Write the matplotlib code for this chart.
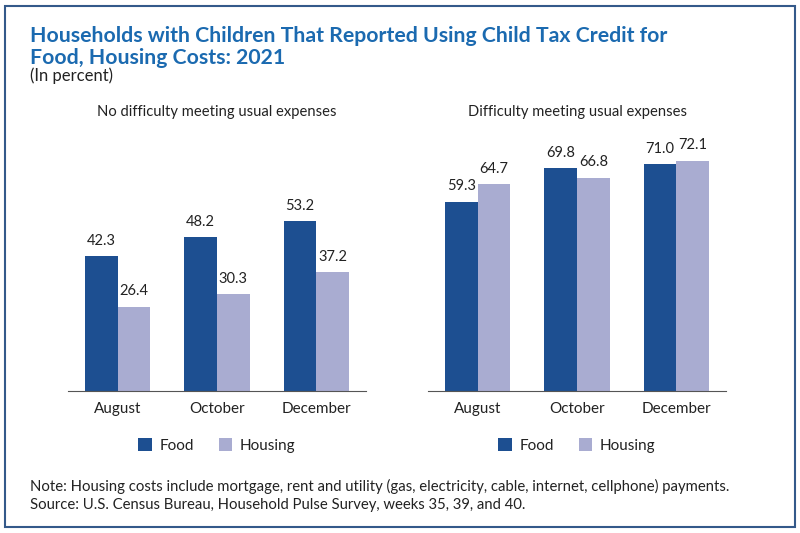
import matplotlib.pyplot as plt
from matplotlib.patches import Rectangle
import numpy as np

plt.rcParams['font.family'] = ['Lato', 'DejaVu Sans']

months = ['August', 'October', 'December']
no_diff_food = [42.3, 48.2, 53.2]
no_diff_housing = [26.4, 30.3, 37.2]
diff_food = [59.3, 69.8, 71.0]
diff_housing = [64.7, 66.8, 72.1]
panel_titles = ['No difficulty meeting usual expenses', 'Difficulty meeting usual expenses']

food_color = '#1d4f91'
housing_color = '#a9acd1'
title_color = '#1b6ab0'

W, H = 800, 533
fig = plt.figure(figsize=(W / 100, H / 100), dpi=100)

# frame around the whole graphic
fig.patches.append(Rectangle((5 / W, 6 / H), 790 / W, 521 / H, transform=fig.transFigure,
                             fill=False, edgecolor='#34598a', linewidth=1.5))

fig.text(30 / W, 1 - 36 / H, 'Households with Children That Reported Using Child Tax Credit for',
         fontsize=15.3, fontweight='bold', color=title_color, va='center')
fig.text(30 / W, 1 - 58 / H, 'Food, Housing Costs: 2021',
         fontsize=15.3, fontweight='bold', color=title_color, va='center')
fig.text(30 / W, 1 - 76 / H, '(In percent)', fontsize=12, color='#222222', va='center')

ymax = 80
px_per_unit = 3.195
base = 391
ax_h = ymax * px_per_unit

def draw_panel(left, food, housing, title):
    ax = fig.add_axes([left / W, (H - base) / H, 298 / W, ax_h / H])
    x = np.arange(len(months))
    w = 0.33
    ax.bar(x - w / 2, food, w, color=food_color, label='Food')
    ax.bar(x + w / 2, housing, w, color=housing_color, label='Housing')
    for xi, f, h in zip(x, food, housing):
        ax.text(xi - w / 2, f + 2.6, f'{f:.1f}', ha='center', va='bottom', fontsize=10.5, color='#222222')
        ax.text(xi + w / 2, h + 2.6, f'{h:.1f}', ha='center', va='bottom', fontsize=10.5, color='#222222')
    ax.set_xlim(-0.5, 2.5)
    ax.set_ylim(0, ymax)
    ax.set_xticks(x)
    ax.set_xticklabels(months, fontsize=11, color='#222222')
    ax.tick_params(axis='x', length=0, pad=8)
    ax.set_yticks([])
    for s in ['top', 'right', 'left']:
        ax.spines[s].set_visible(False)
    ax.spines['bottom'].set_color('#555555')
    ax.spines['bottom'].set_linewidth(0.8)
    fig.text((left + 149) / W, 1 - 112 / H, title, ha='center', va='center', fontsize=10.6, color='#222222')
    leg = ax.legend(loc='upper center', bbox_to_anchor=(0.5, -0.13), ncol=2, frameon=False,
                    fontsize=11, handlelength=0.9, handleheight=0.9, columnspacing=1.6,
                    handletextpad=0.5)
    for t in leg.get_texts():
        t.set_color('#222222')
    return ax

draw_panel(68, no_diff_food, no_diff_housing, panel_titles[0])
draw_panel(428, diff_food, diff_housing, panel_titles[1])

fig.text(30 / W, 1 - 486 / H,
         'Note: Housing costs include mortgage, rent and utility (gas, electricity, cable, internet, cellphone) payments.',
         fontsize=10.7, color='#222222', va='center')
fig.text(30 / W, 1 - 505 / H,
         'Source: U.S. Census Bureau, Household Pulse Survey, weeks 35, 39, and 40.',
         fontsize=10.7, color='#222222', va='center')

fig.savefig('out.png', dpi=100)
